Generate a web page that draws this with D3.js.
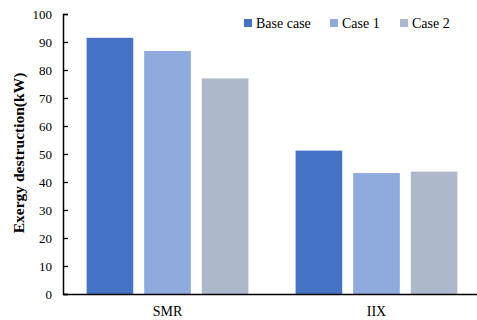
<!DOCTYPE html>
<html><head><meta charset="utf-8">
<script src="https://cdn.jsdelivr.net/npm/d3@7"></script>
<style>body{margin:0;background:#fff}svg{display:block}text{font-family:"Liberation Serif","Times New Roman",serif}</style>
</head><body>
<svg id="c" width="477" height="320"></svg>
<script>
const categories = ["SMR", "IIX"];
const seriesNames = ["Base case", "Case 1", "Case 2"];
const baseCase = [91.5, 51.2];
const case1 = [86.8, 43.2];
const case2 = [77.0, 43.7];
const yTicks = [0,10,20,30,40,50,60,70,80,90,100];
const colors = ["#4472C4", "#8FAADC", "#ADB9CA"];

const series = [baseCase, case1, case2];
const svg = d3.select("#c");
const m = {l:63, r:481, t:14, b:294};
const x0 = d3.scaleBand().domain(categories).range([m.l, m.r]);
const x1 = d3.scaleBand().domain(seriesNames).range([0, x0.bandwidth()]).paddingInner(0.19).paddingOuter(0.41);
const y = d3.scaleLinear().domain([0,100]).range([m.b, m.t]);

// bars
categories.forEach((c, ci) => {
  seriesNames.forEach((s, si) => {
    svg.append("rect")
      .attr("x", x0(c) + x1(s))
      .attr("y", y(series[si][ci]))
      .attr("width", x1.bandwidth())
      .attr("height", y(0) - y(series[si][ci]))
      .attr("fill", colors[si]);
  });
});

// y axis
const ya = svg.append("g").attr("transform", `translate(${m.l},0)`)
  .call(d3.axisLeft(y).tickValues(yTicks).tickSize(-5).tickPadding(11));
ya.select(".domain").attr("stroke", "#000").attr("stroke-width", 1.5);
ya.selectAll(".tick line").attr("stroke", "#000").attr("stroke-width", 1.3);
ya.selectAll(".tick text").attr("font-size", 13).attr("fill", "#000")
  .style("font-family", '"Liberation Serif",serif');

// x axis
const xa = svg.append("g").attr("transform", `translate(0,${m.b})`)
  .call(d3.axisBottom(x0).tickSize(0).tickPadding(12));
xa.select(".domain").attr("stroke", "#000").attr("stroke-width", 1.5);
xa.selectAll(".tick text").attr("font-size", 14).attr("fill", "#000")
  .style("font-family", '"Liberation Serif",serif');

// y title
svg.append("text")
  .attr("transform", `translate(24,153) rotate(-90)`)
  .attr("text-anchor", "middle")
  .attr("font-size", 15.5).attr("font-weight", "bold")
  .text("Exergy destruction(kW)");

// legend
const legX = [244, 330, 400];
seriesNames.forEach((s, i) => {
  const g = svg.append("g").attr("transform", `translate(${legX[i]},23)`);
  g.append("rect").attr("x", 0).attr("y", -4).attr("width", 8).attr("height", 8).attr("fill", colors[i]);
  g.append("text").attr("x", 12).attr("y", 0).attr("dy", "0.35em")
    .attr("font-size", 14).text(s);
});
</script>
</body></html>
